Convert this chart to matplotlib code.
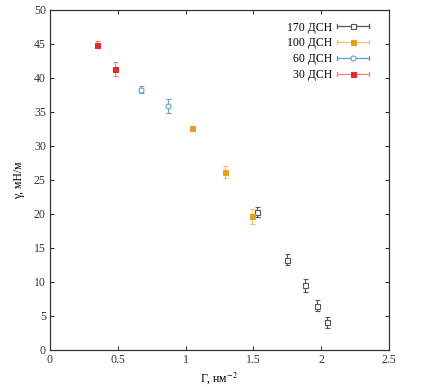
import matplotlib
matplotlib.use("Agg")
import matplotlib.pyplot as plt
from matplotlib.legend_handler import HandlerBase
from matplotlib.lines import Line2D

plt.rcParams["font.family"] = ["Liberation Serif", "DejaVu Serif"]
plt.rcParams["mathtext.fontset"] = "stix"

# data: Gamma (nm^-2), gamma (mN/m), error
g170 = [1.53, 1.75, 1.88, 1.97, 2.04]
y170 = [20.3, 13.3, 9.5, 6.5, 4.1]
e170 = [0.8, 0.8, 1.0, 0.8, 0.8]

g100 = [1.05, 1.29, 1.49]
y100 = [32.7, 26.2, 19.7]
e100 = [0.2, 0.9, 1.1]

g60 = [0.67, 0.87]
y60 = [38.3, 35.9]
e60 = [0.5, 1.0]

g30 = [0.35, 0.48]
y30 = [44.9, 41.3]
e30 = [0.5, 1.0]

labels = ["170 ДСН", "100 ДСН", "60 ДСН", "30 ДСН"]


class ErrHandler(HandlerBase):
    # gnuplot-like key: horizontal line with end caps and marker in the middle
    def __init__(self, color, ecolor, marker, mfc):
        super().__init__()
        self.color, self.ecolor, self.marker, self.mfc = color, ecolor, marker, mfc

    def create_artists(self, legend, orig, xd, yd, w, h, fs, trans):
        y = yd + h / 2
        arts = [Line2D([xd, xd + w], [y, y], color=self.ecolor, lw=0.9, transform=trans)]
        for x in (xd, xd + w):
            arts.append(Line2D([x, x], [y - 1.5, y + 1.5], color=self.ecolor, lw=0.9, transform=trans))
        arts.append(Line2D([xd + w / 2], [y], marker=self.marker, ms=3.6, color=self.color,
                           mfc=self.mfc, mew=0.8, ls="none", transform=trans))
        return arts


fig = plt.figure(figsize=(4.27, 3.87), dpi=100)
ax = fig.add_axes([50 / 427, 37 / 387, 339 / 427, 340 / 387])

styles = [
    (g170, y170, e170, "#555555", "#555555", "s", "white"),
    (g100, y100, e100, "#E69F20", "#F0C070", "s", "#E69F20"),
    (g60, y60, e60, "#5A9FD0", "#5A9FD0", "o", "white"),
    (g30, y30, e30, "#E8282C", "#F08080", "s", "#E8282C"),
]

handles, hmap = [], {}
for (gx, gy, ge, c, ec, m, mfc), lab in zip(styles, labels):
    ax.errorbar(gx, gy, yerr=ge, fmt=m, color=c, mfc=mfc, mec=c, ms=3.6, mew=0.8,
                ecolor=ec, elinewidth=0.8, capsize=1.8, capthick=0.8)
    h = Line2D([], [], label=lab)
    handles.append(h)
    hmap[h] = ErrHandler(c, ec, m, mfc)

ax.legend(handles=handles, handler_map=hmap, loc="upper right", frameon=False,
          fontsize=8.5, markerfirst=False, handlelength=2.7, handletextpad=0.4,
          labelspacing=0.33, borderaxespad=0, bbox_to_anchor=(0.955, 0.98))

ax.set_xlim(0, 2.5)
ax.set_ylim(0, 50)
ax.set_xticks([0, 0.5, 1, 1.5, 2, 2.5])
ax.set_xticklabels(["0", "0.5", "1", "1.5", "2", "2.5"])
ax.set_yticks(range(0, 51, 5))
ax.tick_params(direction="in", top=True, right=True, labelsize=8.5, length=3,
               width=0.6, pad=3, labelcolor="#333333")
for s in ax.spines.values():
    s.set_linewidth(0.9)
    s.set_color("#333333")

ax.set_xlabel("Γ, нм$^{-2}$", fontsize=8.5, labelpad=3)
ax.set_ylabel("γ, мН/м", fontsize=8.5, labelpad=6)

fig.savefig("out.png", dpi=100)
